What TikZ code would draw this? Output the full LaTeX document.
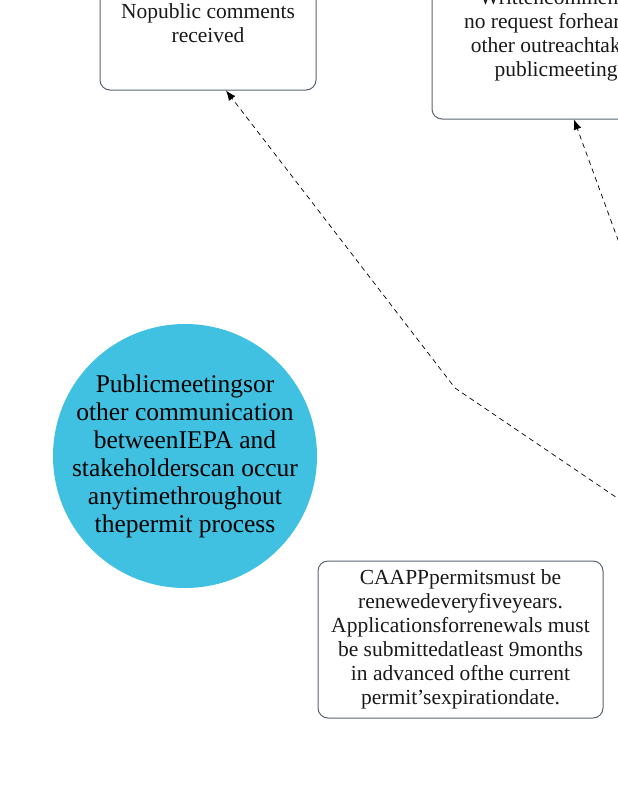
\documentclass[tikz,border=0pt]{standalone}
\usepackage{fontspec}
\setmainfont{Liberation Serif}
\usetikzlibrary{arrows.meta}
\definecolor{cyanfill}{RGB}{64,193,226}
\definecolor{boxline}{RGB}{90,100,112}
\definecolor{inktext}{RGB}{25,25,25}
\tikzset{
  pxsheet/.style={x=1pt,y=-1pt},
  notebox/.style={draw=boxline,rounded corners=10pt,line width=1pt,align=center,
    text=inktext,font=\fontsize{21.5}{24}\selectfont,inner sep=0pt},
  flowlink/.style={dash pattern=on 5pt off 4pt,line width=0.7pt,-{Latex[length=10pt,width=8pt]}}
}

\begin{document}
\begin{tikzpicture}[pxsheet]
    \useasboundingbox (0,0) rectangle (618,800);
    \clip (0,0) rectangle (618,800);
    % outcome boxes, cut by the page edge
    \node[notebox,minimum width=216pt,minimum height=134pt] (nocomm) at (208,23)
        {Nopublic comments\\received};
    \node[notebox,minimum width=248pt,minimum height=166pt] (written) at (556,36)
        {Writtencomments\\no request forhearing\\other outreachtaken\\publicmeeting};
    % public meetings
    \node[circle,fill=cyanfill,minimum size=264pt,inner sep=-7pt,align=center,
        font=\fontsize{25.5}{28}\selectfont] (meet) at (185,456)
        {Publicmeetingsor\\other communication\\betweenIEPA and\\stakeholderscan occur\\anytimethroughout\\thepermit process};
    % renewal note
    \node[notebox,minimum width=285pt,minimum height=157pt] (renew) at (460.5,639.5)
        {CAAPPpermitsmust be\\renewedeveryfiveyears.\\Applicationsforrenewals must\\be submittedatleast 9months\\in advanced ofthe current\\permit'sexpirationdate.};
    % links coming in from the right
    \coordinate (srcA) at (660,527);
    \coordinate (bendA) at (455,388);
    \coordinate (srcB) at (640,300);
    \draw[flowlink] (srcA) -- (bendA) -- ([xshift=18pt]nocomm.south);
    \draw[flowlink] (srcB) -- ([xshift=18pt]written.south);
\end{tikzpicture}
\end{document}
